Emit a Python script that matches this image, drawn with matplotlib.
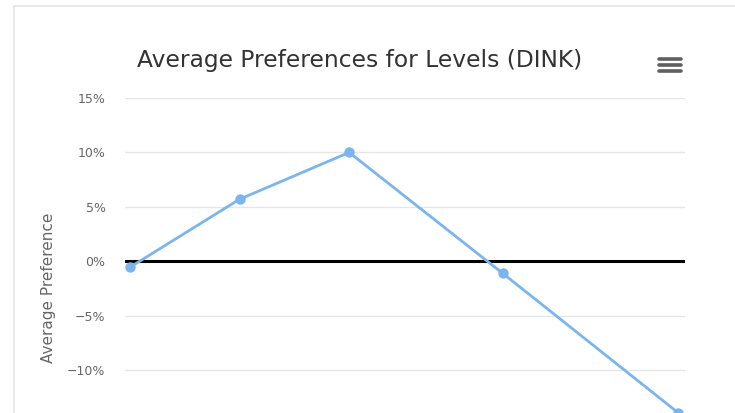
import matplotlib
matplotlib.use("Agg")
import matplotlib.pyplot as plt
from matplotlib.lines import Line2D
from matplotlib.ticker import FuncFormatter, MultipleLocator

# Average preference for each level (in %)
levels = [1, 2, 3, 4.4, 6]
preferences = [-0.55, 5.7, 10.0, -1.1, -13.9]

title = "Average Preferences for Levels (DINK)"
y_title = "Average Preference"

W, H = 735, 413
fig = plt.figure(figsize=(W / 100, H / 100), dpi=100)
fig.patch.set_facecolor("white")

# plot area in pixels: x 125..685, y 98..479
left, right, top, bottom = 125, 685, 98, 479
ax = fig.add_axes([left / W, 1 - bottom / H, (right - left) / W, (bottom - top) / H])
ax.set_facecolor("white")
for s in ax.spines.values():
    s.set_visible(False)

ax.set_xlim(0.955, 6.064)
ax.set_ylim(-20, 15)
ax.yaxis.set_major_locator(MultipleLocator(5))


def pct(v, p):
    # labels below the visible frame are left blank
    if v < -10:
        return ""
    return f"{v:.0f}%".replace("-", "\u2212")


ax.yaxis.set_major_formatter(FuncFormatter(pct))
ax.grid(axis="y", color="#e6e6e6", linewidth=1)
ax.set_axisbelow(True)
ax.tick_params(axis="y", length=0, pad=14, labelsize=9, labelcolor="#666666")
ax.tick_params(axis="x", length=0, labelbottom=False)

# zero reference line
ax.axhline(0, color="black", linewidth=2.2, zorder=2)

ax.plot(levels, preferences, color="#7cb5ec", linewidth=2, marker="o",
        markersize=7.5, markeredgewidth=0, zorder=3, clip_on=False)

ax.set_ylabel(y_title, fontsize=11, color="#666666")
ax.yaxis.set_label_coords((49 - left) / (right - left), (bottom - 288) / (bottom - top))
ax.yaxis.label.set_verticalalignment("center")

fig.text(360 / W, 1 - 61 / H, title, ha="center", va="center",
         fontsize=16.8, color="#333333")

# chart container border
fig.add_artist(Line2D([13.5 / W, 13.5 / W], [0, 1 - 6 / H], color="#e4e4e4", linewidth=1.2))
fig.add_artist(Line2D([13.5 / W, 1], [1 - 6 / H, 1 - 6 / H], color="#e4e4e4", linewidth=1.2))

# context menu icon
for yb in (58.5, 64.5, 70.5):
    fig.add_artist(Line2D([659 / W, 681 / W], [1 - yb / H, 1 - yb / H],
                          color="#606060", linewidth=2.6, solid_capstyle="round"))

fig.savefig("out.png", dpi=100, facecolor="white")
